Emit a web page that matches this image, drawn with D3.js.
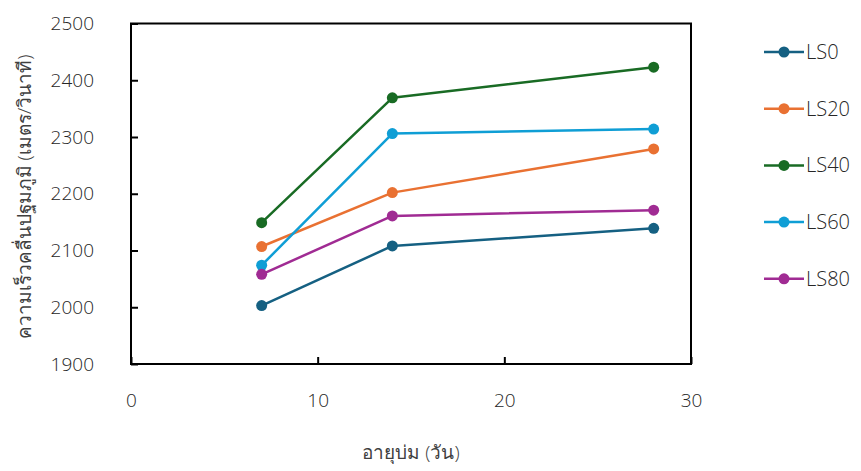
<!DOCTYPE html>
<html>
<head>
<meta charset="utf-8">
<script src="https://cdn.jsdelivr.net/npm/d3@7"></script>
<style>
  body { margin: 0; background: #fff; }
  text { font-family: "Open Sans", "Noto Sans", sans-serif; font-weight: 300; }
</style>
</head>
<body>
<svg id="chart" width="861" height="471"></svg>
<script>
// curing age in days
const days = [7, 14, 28];
// P-wave velocity (m/s) for each mix
const seriesNames = ["LS0", "LS20", "LS40", "LS60", "LS80"];
const LS0  = [2003, 2108, 2139];
const LS20 = [2107, 2202, 2279];
const LS40 = [2149, 2369, 2423];
const LS60 = [2074, 2306, 2314];
const LS80 = [2058, 2161, 2171];
const colors = ["#156082", "#E97132", "#196B24", "#0F9ED5", "#A02B93"];
const xTicks = [0, 10, 20, 30];
const yTicks = [1900, 2000, 2100, 2200, 2300, 2400, 2500];

const series = [LS0, LS20, LS40, LS60, LS80].map((vals, i) => ({
  name: seriesNames[i],
  color: colors[i],
  points: vals.map((v, j) => ({ day: days[j], value: v }))
}));

const margin = { top: 23.5, right: 170, bottom: 107, left: 131 };
const width = 861 - margin.left - margin.right;
const height = 471 - margin.top - margin.bottom;
const textColor = "#262626";

const svg = d3.select("#chart");
const g = svg.append("g").attr("transform", `translate(${margin.left},${margin.top})`);

const x = d3.scaleLinear().domain([0, 30]).range([0, width]);
const y = d3.scaleLinear().domain([1900, 2500]).range([height, 0]);

// frame
g.append("rect")
  .attr("width", width).attr("height", height)
  .attr("fill", "none").attr("stroke", "#000").attr("stroke-width", 2);

// x axis (ticks point up into the plot)
const xAxis = g.append("g")
  .attr("transform", `translate(0,${height})`)
  .call(d3.axisBottom(x).tickValues(xTicks).tickFormat(d3.format("d")).tickSize(-7).tickPadding(30));
xAxis.select(".domain").remove();
xAxis.selectAll("line").attr("stroke", "#000").attr("stroke-width", 2);
xAxis.selectAll("text").attr("fill", textColor).style("font-size", "19px");

// y axis (ticks point right into the plot)
const yAxis = g.append("g")
  .call(d3.axisLeft(y).tickValues(yTicks).tickFormat(d3.format("d")).tickSize(-7).tickPadding(37));
yAxis.select(".domain").remove();
yAxis.selectAll("line").attr("stroke", "#000").attr("stroke-width", 2);
yAxis.selectAll("text").attr("fill", textColor).style("font-size", "19px");

const line = d3.line()
  .x(d => x(d.day))
  .y(d => y(d.value));

series.forEach(s => {
  g.append("path")
    .datum(s.points)
    .attr("fill", "none")
    .attr("stroke", s.color)
    .attr("stroke-width", 2.5)
    .attr("stroke-linejoin", "round")
    .attr("d", line);
  g.selectAll(null)
    .data(s.points)
    .enter().append("circle")
    .attr("cx", d => x(d.day))
    .attr("cy", d => y(d.value))
    .attr("r", 5.5)
    .attr("fill", s.color);
});

// axis titles
svg.append("text")
  .attr("x", margin.left + width / 2)
  .attr("y", 459)
  .attr("text-anchor", "middle")
  .attr("fill", "#404040")
  .style("font-size", "19px")
  .text("อายุบ่ม (วัน)");

svg.append("text")
  .attr("transform", `translate(31,${197}) rotate(-90)`)
  .attr("text-anchor", "middle")
  .attr("fill", "#404040")
  .style("font-size", "19px")
  .text("ความเร็วคลื่นปฐมภูมิ  (เมตร/วินาที)");

// legend
const legend = svg.append("g").attr("transform", "translate(764,52)");
series.forEach((s, i) => {
  const row = legend.append("g").attr("transform", `translate(0,${i * 56.7})`);
  row.append("line")
    .attr("x1", 0).attr("x2", 40)
    .attr("stroke", s.color).attr("stroke-width", 2.5);
  row.append("circle").attr("cx", 20).attr("r", 5.5).attr("fill", s.color);
  row.append("text")
    .attr("x", 42).attr("dy", "0.35em")
    .attr("fill", textColor)
    .style("font-size", "20px")
    .text(s.name);
});
</script>
</body>
</html>
